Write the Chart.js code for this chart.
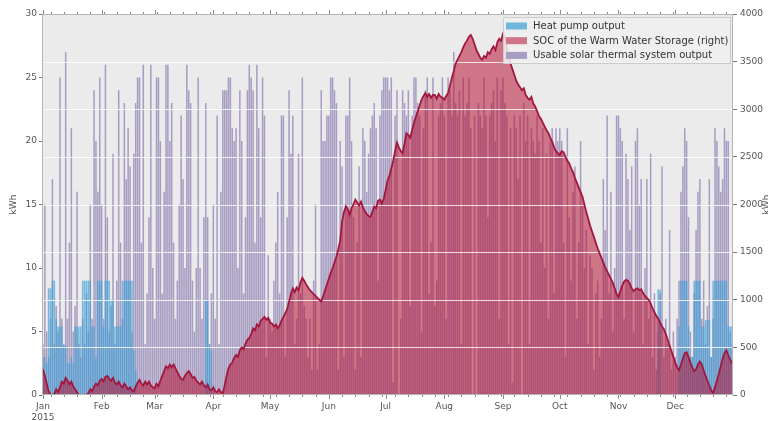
<!DOCTYPE html>
<html>
<head>
<meta charset="utf-8">
<title>Warm water storage 2015</title>
<script src="https://cdn.jsdelivr.net/npm/chart.js@4/dist/chart.umd.min.js"></script>
<style>
  html, body { margin: 0; padding: 0; background: #ffffff; }
  canvas { display: block; }
</style>
</head>
<body>
<canvas id="chart" width="768" height="421"></canvas>
<script>
// ---- data: daily values for 2015 ----
const year = 2015;
const monthLabels = ['Jan', 'Feb', 'Mar', 'Apr', 'May', 'Jun', 'Jul', 'Aug', 'Sep', 'Oct', 'Nov', 'Dec'];
const leftTicks = [0, 5, 10, 15, 20, 25, 30];            // kWh
const rightTicks = [0, 500, 1000, 1500, 2000, 2500, 3000, 3500, 4000];
const seriesNames = ['Heat pump output', 'SOC of the Warm Water Storage (right)', 'Usable solar thermal system output'];

// Heat pump output, kWh per day
const heatPump = [
  // Jan
  3, 3, 2.5, 8.4, 8.4, 9, 9, 6, 5.4, 5.4, 5.4, 3.9, 3.9, 2.5, 2.5, 3, 2.5, 5.4, 5.4, 5.4, 5.4, 9, 9, 9, 9, 9, 5.4, 5.4, 3, 9, 9,
  // Feb
  9, 5.4, 9, 9, 9, 7.5, 7.5, 5.4, 5.4, 5.4, 5.4, 9, 9, 9, 9, 9, 9, 3.5, 2, 0, 0, 0, 0, 0, 0, 0, 0, 0,
  // Mar
  0, 0, 0, 0, 0, 0, 0, 0, 0, 0, 0, 0, 0, 0, 0, 0, 0, 0, 0, 0, 0, 0, 0, 0, 0, 0, 0, 7.5, 7.5, 4, 3.5,
  // Apr
  0, 0, 0, 0, 0, 0, 0, 0, 0, 0, 0, 0, 0, 0, 0, 0, 0, 0, 0, 0, 0, 0, 0, 0, 0, 0, 0, 0, 0, 0,
  // May
  0, 0, 0, 0, 0, 0, 0, 0, 0, 0, 0, 0, 0, 0, 0, 0, 0, 0, 0, 0, 0, 0, 0, 0, 0, 0, 0, 0, 0, 0, 0,
  // Jun
  0, 0, 0, 0, 0, 0, 0, 0, 0, 0, 0, 0, 0, 0, 0, 0, 0, 0, 0, 0, 0, 0, 0, 0, 0, 0, 0, 0, 0, 0,
  // Jul
  0, 0, 0, 0, 0, 0, 0, 0, 0, 0, 0, 0, 0, 0, 0, 0, 0, 0, 0, 0, 0, 0, 0, 0, 0, 0, 0, 0, 0, 0, 0,
  // Aug
  0, 0, 0, 0, 0, 0, 0, 0, 0, 0, 0, 0, 0, 0, 0, 0, 0, 0, 0, 0, 0, 0, 0, 0, 0, 0, 0, 0, 0, 0, 0,
  // Sep
  0, 0, 0, 0, 0, 0, 0, 0, 0, 0, 0, 0, 0, 0, 0, 0, 0, 0, 0, 0, 0, 0, 0, 0, 0, 0, 0, 0, 0, 0,
  // Oct
  0, 0, 0, 0, 0, 0, 0, 0, 0, 0, 0, 0, 0, 0, 0, 0, 0, 0, 0, 0, 0, 0, 0, 0, 0, 0, 0, 0, 0, 0, 0,
  // Nov
  0, 0, 0, 0, 0, 0, 0, 0, 0, 0, 0, 0, 0, 0, 0, 0, 0, 0, 0, 0, 0, 8.3, 8.3, 0, 0, 0, 0, 0, 0, 0,
  // Dec
  0, 0, 5.4, 9, 9, 9, 9, 5.4, 3, 3, 9, 9, 9, 9, 5.4, 5.4, 5.9, 5.9, 5.9, 3, 9, 9, 9, 9, 9, 9, 9, 9, 5.4, 5.4, 5.4
];

// Usable solar thermal system output, kWh per day
const solar = [
  // Jan
  4, 15, 5, 3, 6, 17, 4, 7, 5, 25, 6, 4, 27, 6, 12, 21, 5, 7, 16, 4, 3, 6, 4, 8, 5, 15, 6, 24, 20, 16, 25,
  // Feb
  15, 6, 26, 14, 5, 7, 19, 4, 9, 24, 12, 6, 23, 17, 21, 18, 5, 19, 23, 25, 25, 12, 26, 4, 8, 14, 26, 10,
  // Mar
  6, 25, 25, 20, 8, 16, 26, 26, 20, 23, 12, 6, 9, 15, 22, 17, 10, 26, 24, 23, 9, 5, 10, 25, 10, 6, 14, 23, 14, 4, 8,
  // Apr
  15, 6, 22, 4, 16, 24, 24, 24, 25, 25, 21, 20, 21, 10, 24, 20, 8, 14, 24, 26, 25, 24, 12, 26, 21, 14, 25, 22, 3, 11,
  // May
  6, 5, 9, 12, 16, 8, 22, 22, 3, 14, 24, 19, 22, 4, 6, 19, 8, 25, 7, 6, 3, 6, 2, 9, 15, 2, 4, 24, 20, 20, 22,
  // Jun
  22, 25, 25, 24, 23, 2, 20, 18, 3, 22, 22, 25, 20, 14, 2, 12, 18, 3, 21, 20, 16, 19, 21, 22, 23, 21, 9, 22, 24, 25,
  // Jul
  25, 25, 24, 25, 1, 22, 24, 0, 6, 24, 23, 22, 24, 7, 22, 25, 25, 23, 22, 5, 21, 24, 25, 8, 12, 25, 7, 9, 22, 23, 25,
  // Aug
  22, 6, 25, 24, 22, 27, 23, 22, 24, 4, 25, 22, 23, 25, 21, 0, 22, 0, 23, 22, 21, 25, 22, 14, 22, 23, 24, 20, 25, 6, 24,
  // Sep
  25, 23, 22, 4, 21, 1, 22, 21, 17, 22, 0, 23, 20, 22, 4, 21, 20, 19, 22, 20, 12, 21, 10, 19, 6, 20, 21, 8, 21, 20,
  // Oct
  21, 20, 12, 3, 21, 14, 9, 16, 18, 6, 12, 20, 15, 10, 13, 4, 11, 10, 2, 8, 9, 3, 6, 17, 13, 22, 8, 16, 5, 10, 22,
  // Nov
  22, 21, 20, 6, 19, 17, 13, 18, 5, 20, 21, 15, 17, 4, 10, 17, 6, 19, 3, 8, 2, 5, 8, 18, 3, 6, 4, 13, 2, 5,
  // Dec
  3, 6, 9, 16, 18, 21, 20, 14, 5, 3, 8, 13, 16, 17, 6, 9, 4, 7, 17, 3, 6, 21, 20, 18, 16, 17, 21, 20, 20, 5, 4
];

// State of charge of the warm water storage (right axis)
const soc = [
  // Jan
  270, 200, 120, 40, 0, 0, 10, 60, 30, 80, 140, 120, 180, 150, 110, 140, 90, 60, 30, 0, 0, 0, 0, 0, 20, 60, 40, 90, 120, 100, 150,
  // Feb
  170, 140, 190, 200, 170, 150, 180, 130, 110, 140, 100, 80, 120, 90, 60, 80, 50, 40, 90, 130, 160, 120, 100, 140, 110, 140, 100, 80,
  // Mar
  70, 120, 90, 150, 200, 250, 300, 280, 320, 290, 320, 280, 240, 200, 170, 160, 200, 230, 250, 220, 180, 190, 150, 130, 110, 140, 100, 80, 110, 60, 50,
  // Apr
  80, 40, 30, 60, 30, 20, 100, 200, 280, 320, 340, 390, 420, 400, 470, 500, 480, 540, 580, 600, 640, 700, 680, 740, 720, 780, 800, 820, 790, 810,
  // May
  760, 750, 720, 740, 700, 730, 780, 820, 860, 900, 980, 1060, 1120, 1080, 1130, 1100, 1180, 1230, 1200, 1160, 1130, 1100, 1080, 1060, 1040, 1020, 1000, 980, 1040, 1100, 1160,
  // Jun
  1220, 1280, 1330, 1390, 1450, 1530, 1620, 1820, 1920, 1980, 1950, 1890, 1960, 2000, 2050, 2020, 1990, 2030, 1970, 1930, 1900, 1880, 1870, 1920, 1980, 1960, 2040, 2050, 2010, 2060,
  // Jul
  2150, 2250, 2300, 2380, 2460, 2560, 2650, 2600, 2560, 2540, 2640, 2750, 2730, 2700, 2780, 2860, 2920, 2980, 3040, 3100, 3140, 3170, 3130, 3160, 3120, 3150, 3150, 3110, 3160, 3130, 3120,
  // Aug
  3100, 3140, 3170, 3250, 3330, 3400, 3480, 3520, 3560, 3600, 3650, 3690, 3720, 3760, 3780, 3740, 3680, 3620, 3580, 3540, 3520, 3560, 3540, 3600, 3580, 3630, 3660, 3620, 3700, 3740, 3720,
  // Sep
  3790, 3760, 3650, 3560, 3480, 3420, 3360, 3300, 3260, 3230, 3200, 3220, 3150, 3120, 3100, 3130, 3060, 3030, 2980, 2930, 2900, 2860, 2820, 2780, 2750, 2700, 2660, 2600, 2560, 2540,
  // Oct
  2520, 2560, 2550, 2500, 2460, 2430, 2380, 2340, 2280, 2230, 2180, 2130, 2080, 2000, 1920, 1850, 1780, 1720, 1660, 1600, 1540, 1490, 1440, 1390, 1340, 1300, 1260, 1220, 1180, 1120, 1060,
  // Nov
  1030, 1090, 1150, 1190, 1210, 1200, 1170, 1120, 1090, 1110, 1120, 1100, 1110, 1070, 1040, 1020, 1000, 960, 910, 870, 830, 800, 760, 720, 690, 640, 580, 520, 460, 400,
  // Dec
  340, 290, 260, 320, 380, 440, 450, 400, 340, 290, 250, 270, 320, 350, 320, 260, 200, 150, 100, 50, 20, 80, 150, 220, 300, 380, 440, 470, 420, 370, 330
];

// one category per calendar day
const days = [];
for (let i = 0; i < soc.length; i++) {
  days.push(new Date(Date.UTC(year, 0, 1 + i)));
}
const categories = days.map(d => d.toISOString().slice(0, 10));

// ---- styling ----
const FONT = "'DejaVu Sans', 'Liberation Sans', sans-serif";
const TEXT = '#555555';
const PLOT_BG = '#ebebeb';
const colors = {
  heat: 'rgba(60, 160, 215, 0.7)',
  socFill: 'rgba(182, 20, 52, 0.55)',
  socLine: '#a3173e',
  solar: 'rgba(122, 104, 166, 0.6)'
};

const decor = {
  id: 'decor',
  beforeDraw(chart) {
    const { ctx, chartArea: a } = chart;
    ctx.save();
    ctx.fillStyle = PLOT_BG;
    ctx.fillRect(a.left, a.top, a.right - a.left, a.bottom - a.top);
    ctx.restore();
  },
  beforeDatasetDraw(chart, args) {
    // right-axis grid lines sit above the bars but below the storage area
    if (args.index !== 1) return;
    const { ctx, chartArea: a } = chart;
    const y2 = chart.scales.y2;
    ctx.save();
    ctx.strokeStyle = 'rgba(255,255,255,0.8)';
    ctx.lineWidth = 1;
    rightTicks.forEach(v => {
      if (v === rightTicks[0] || v === rightTicks[rightTicks.length - 1]) return;
      const y = Math.round(y2.getPixelForValue(v)) + 0.5;
      ctx.beginPath();
      ctx.moveTo(a.left, y);
      ctx.lineTo(a.right, y);
      ctx.stroke();
    });
    ctx.restore();
  },
  afterDraw(chart) {
    const { ctx, chartArea: a } = chart;
    const x = chart.scales.x;
    ctx.save();
    // frame
    ctx.strokeStyle = '#b4b4b4';
    ctx.lineWidth = 1;
    ctx.strokeRect(a.left + 0.5, a.top + 0.5, a.right - a.left - 1, a.bottom - a.top - 1);

    // month and weekly tick marks on top and bottom
    ctx.strokeStyle = '#8a8a8a';
    days.forEach((d, i) => {
      const major = d.getUTCDate() === 1;
      const minor = d.getUTCDay() === 1;
      if (!major && !minor) return;
      const len = major ? 4 : 2;
      const px = Math.round(x.getPixelForValue(i)) + 0.5;
      ctx.beginPath();
      ctx.moveTo(px, a.top);
      ctx.lineTo(px, a.top - len);
      ctx.moveTo(px, a.bottom);
      ctx.lineTo(px, a.bottom + len);
      ctx.stroke();
    });

    // axis titles
    ctx.fillStyle = TEXT;
    ctx.font = '9px ' + FONT;
    ctx.textAlign = 'center';
    ctx.textBaseline = 'middle';
    const midY = (a.top + a.bottom) / 2;
    [[14, midY], [767, midY]].forEach(([tx, ty]) => {
      ctx.save();
      ctx.translate(tx, ty);
      ctx.rotate(-Math.PI / 2);
      ctx.fillText('kWh', 0, 0);
      ctx.restore();
    });

    // legend box in the upper right corner of the plot
    const lx = 503, ly = 17, lw = 228, lh = 47;
    ctx.fillStyle = 'rgba(240,240,240,0.85)';
    ctx.fillRect(lx, ly, lw, lh);
    ctx.strokeStyle = '#cccccc';
    ctx.strokeRect(lx + 0.5, ly + 0.5, lw - 1, lh - 1);
    const swatch = [colors.heat, colors.socFill, colors.solar];
    ctx.font = '10px ' + FONT;
    ctx.textAlign = 'left';
    ctx.textBaseline = 'middle';
    seriesNames.forEach((name, i) => {
      const cy = ly + 9 + i * 14.7;
      ctx.fillStyle = PLOT_BG;
      ctx.fillRect(lx + 3, cy - 3.5, 21, 7);
      ctx.fillStyle = swatch[i];
      ctx.fillRect(lx + 3, cy - 3.5, 21, 7);
      ctx.fillStyle = '#333333';
      ctx.fillText(name, lx + 30, cy + 0.5);
    });
    ctx.restore();
  }
};

const tickFont = { family: FONT, size: 9 };

new Chart(document.getElementById('chart'), {
  type: 'bar',
  data: {
    labels: categories,
    datasets: [
      {
        label: seriesNames[0],
        data: heatPump,
        yAxisID: 'y',
        backgroundColor: colors.heat,
        borderWidth: 0,
        grouped: false,
        barPercentage: 0.8,
        categoryPercentage: 1.0,
        order: 1
      },
      {
        type: 'line',
        label: seriesNames[1],
        data: soc,
        yAxisID: 'y2',
        borderColor: colors.socLine,
        backgroundColor: colors.socFill,
        borderWidth: 1.8,
        pointRadius: 0,
        tension: 0,
        fill: 'origin',
        order: 0
      },
      {
        label: seriesNames[2],
        data: solar,
        yAxisID: 'y',
        backgroundColor: colors.solar,
        borderWidth: 0,
        grouped: false,
        barPercentage: 0.8,
        categoryPercentage: 1.0,
        order: 2
      }
    ]
  },
  options: {
    responsive: false,
    animation: false,
    devicePixelRatio: 1,
    events: [],
    layout: { padding: { top: 14, left: 0, right: 0, bottom: 0 } },
    plugins: { legend: { display: false }, tooltip: { enabled: false } },
    scales: {
      x: {
        type: 'category',
        offset: true,
        grid: { display: false, drawTicks: false },
        border: { display: false },
        afterFit(s) { s.height = 26; },
        ticks: {
          autoSkip: false,
          maxRotation: 0,
          minRotation: 0,
          padding: 6,
          color: TEXT,
          font: tickFont,
          callback(value, index) {
            const d = days[index];
            if (d.getUTCDate() !== 1) return '';
            const m = monthLabels[d.getUTCMonth()];
            return index === 0 ? [m, String(year)] : m;
          }
        }
      },
      y: {
        position: 'left',
        min: leftTicks[0],
        max: leftTicks[leftTicks.length - 1],
        afterFit(s) { s.width = 42; },
        afterBuildTicks(s) { s.ticks = leftTicks.map(v => ({ value: v })); },
        grid: { drawOnChartArea: false, drawTicks: true, tickLength: 3, tickColor: '#777777' },
        border: { display: false },
        ticks: { padding: 2, color: TEXT, font: tickFont, callback: v => String(v) }
      },
      y2: {
        position: 'right',
        min: rightTicks[0],
        max: rightTicks[rightTicks.length - 1],
        afterFit(s) { s.width = 35; },
        afterBuildTicks(s) { s.ticks = rightTicks.map(v => ({ value: v })); },
        grid: { drawOnChartArea: false, drawTicks: true, tickLength: 4, tickColor: '#777777' },
        border: { display: false },
        ticks: { padding: 3, color: TEXT, font: tickFont, callback: v => String(v) }
      }
    }
  },
  plugins: [decor]
});
</script>
</body>
</html>
